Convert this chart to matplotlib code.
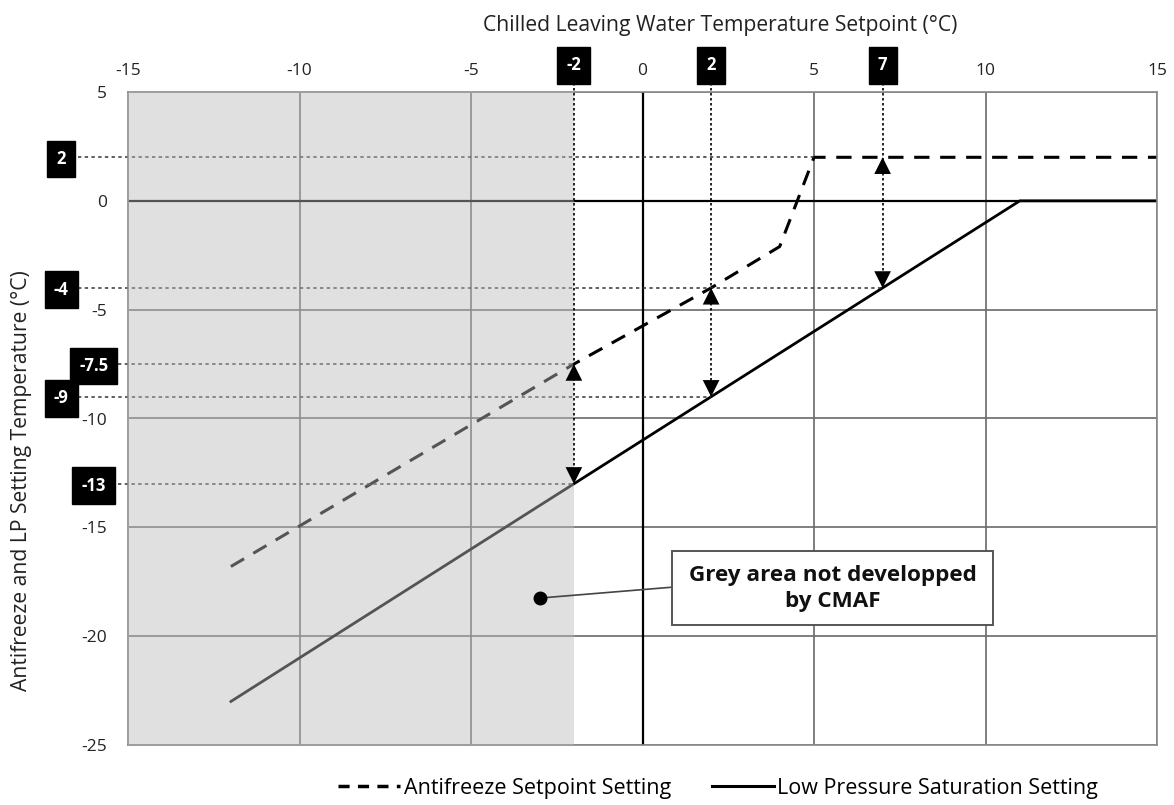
import matplotlib
matplotlib.use("Agg")
import matplotlib.pyplot as plt
from matplotlib.patches import Rectangle
from matplotlib.lines import Line2D

plt.rcParams['font.family'] = ['Open Sans', 'DejaVu Sans']
plt.rcParams['axes.unicode_minus'] = False

# ---- data ----
x_antifreeze = [-12, -2, 2, 4, 5, 15]
y_antifreeze = [-16.8, -7.5, -4, -2.1, 2, 2]
x_lp = [-12, 11, 15]
y_lp = [-23, 0, 0]

setpoints = [-2, 2, 7]           # highlighted chilled water setpoints
af_values = [-7.5, -4, 2]        # antifreeze at those setpoints
lp_values = [-13, -9, -4]        # LP saturation at those setpoints
left_labels = [2, -4, -7.5, -9, -13]
left_line_end = [5, 7, -2, 2, -2]

xticks = list(range(-15, 16, 5))
yticks = list(range(-25, 6, 5))

fig = plt.figure(figsize=(11.74, 8.05), dpi=100)
ax = fig.add_axes([128/1174, 1-745/805, 1029/1174, 653/805])
ax.set_xlim(-15, 15)
ax.set_ylim(-25, 5)

ax.set_xticks(xticks)
ax.set_yticks(yticks)
ax.xaxis.tick_top()
ax.tick_params(axis='x', length=0, pad=9.5, labelsize=12.5, colors='#222')
ax.tick_params(axis='y', length=0, pad=15, labelsize=12.5, colors='#222')
ax.grid(True, color='#6a6a6a', lw=1.2)
ax.set_axisbelow(True)
ax.axhline(0, color='black', lw=1.6, zorder=1)
ax.axvline(0, color='black', lw=1.6, zorder=1)
for s in ax.spines.values():
    s.set_color('#8a8a8a')
    s.set_linewidth(1.2)

# lines
ax.plot(x_antifreeze, y_antifreeze, color='black', lw=2.2, dashes=(5, 3.5), zorder=2)
ax.plot(x_lp, y_lp, color='black', lw=2.0, zorder=2)

# dotted reference lines (horizontal, from left boxes)
for i, (val, xe) in enumerate(zip(left_labels, left_line_end)):
    wide = len(f"{val:g}") > 2
    lx = -16.0 if wide else -16.95
    x0 = -15.3 if wide else -16.46
    ax.plot([x0, xe], [val, val], color='#333', lw=1.1, ls=(0, (2.2, 2.2)),
            clip_on=False, zorder=2)
    ax.text(lx, val - 0.08, f"{val:g}", ha='center', va='center', color='white',
            fontsize=12, fontweight='bold', clip_on=False, zorder=6,
            bbox=dict(boxstyle='square,pad=0.55', fc='black', ec='black'))

# grey overlay (not developed area)
ax.add_patch(Rectangle((-15, -25), 13, 30, facecolor='#bbbbbb', alpha=0.455,
                       edgecolor='none', zorder=3))

# vertical dotted lines and arrows
for sp, af, lp in zip(setpoints, af_values, lp_values):
    ax.plot([sp, sp], [5.4, lp], color='black', lw=1.2, ls=(0, (1.5, 1.5)),
            clip_on=False, zorder=4)
    for tip, tail in ((af, af - 1), (lp, lp + 1)):
        ax.annotate('', xy=(sp, tip), xytext=(sp, tail),
                    arrowprops=dict(arrowstyle='-|>,head_length=0.6,head_width=0.3',
                                    color='black', lw=0, shrinkA=0, shrinkB=0,
                                    mutation_scale=20), zorder=5)
    ax.text(sp, 6.22, f"{sp:g}", ha='center', va='center', color='white',
            fontsize=12, fontweight='bold', clip_on=False, zorder=6,
            bbox=dict(boxstyle='square,pad=0.55', fc='black', ec='black'))

# annotation box
ax.plot([-3, 0.86], [-18.25, -17.75], color='#444', lw=1.2, zorder=5)
ax.plot([-3], [-18.25], 'o', color='black', ms=9, zorder=6)
ax.add_patch(Rectangle((0.86, -19.5), 9.36, 3.4, facecolor='white',
                       edgecolor='#555', lw=1.4, zorder=5))
ax.text(5.54, -17.8, "Grey area not developped\nby CMAF", ha='center', va='center',
        fontsize=16.2, fontweight='bold', color='#111', zorder=6, linespacing=1.3)

# axis labels
fig.text(720/1174, 1-25/805, "Chilled Leaving Water Temperature Setpoint (°C)",
         ha='center', va='center', fontsize=15.2, color='#222')
fig.text(22/1174, 1-481/805, "Antifreeze and LP Setting Temperature (°C)",
         ha='center', va='center', rotation=90, fontsize=15.2, color='#222')

# legend
handles = [Line2D([], [], color='black', lw=2.5, dashes=(3.2, 2.4)),
           Line2D([], [], color='black', lw=2.2)]
fig.legend(handles, ["Antifreeze Setpoint Setting", "Low Pressure Saturation Setting"],
           loc='center left', bbox_to_anchor=(338/1174, 1-788/805), ncol=2,
           frameon=False, fontsize=15.5, handlelength=2.9, columnspacing=1.9,
           handletextpad=0.15, borderaxespad=0, borderpad=0)

fig.savefig("out.png", dpi=100)
